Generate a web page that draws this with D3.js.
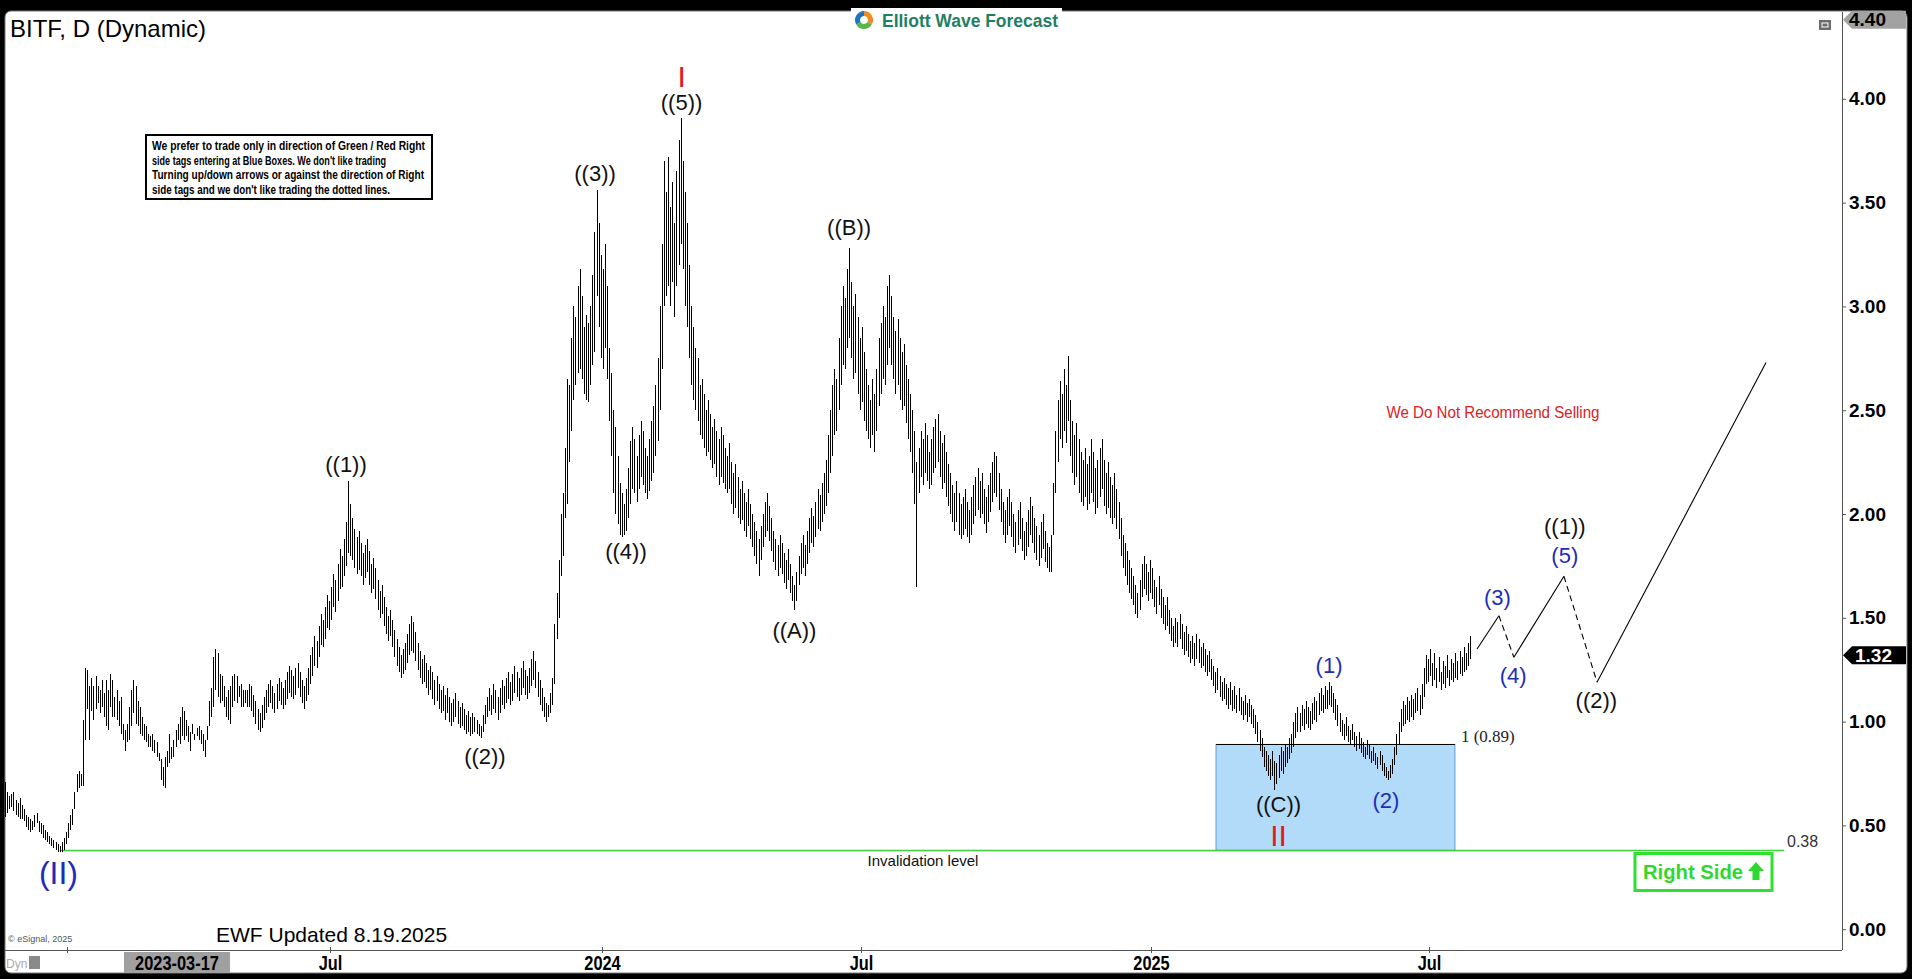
<!DOCTYPE html>
<html><head><meta charset="utf-8">
<script src="https://cdn.jsdelivr.net/npm/d3@7"></script>
<style>html,body{margin:0;padding:0;background:#000;overflow:hidden}text{font-family:"Liberation Sans",Arial,sans-serif}</style>
</head><body><svg id="c" width="1912" height="979"></svg>
<script>
// ---------- DATA (daily bars, values in cents) ----------
const highs = [
71,66,64,65,66,62,61,63,60,58, 55,54,53,52,55,56,52,51,50,48, 47,45,44,43,42,41,40,42,44,47, 51,55,58,66,75,76,75,101,126,
125,117,121,117,122,117,115,120,114,120, 115,123,120,112,115,110,112,99,96,99, 107,115,120,117,110,107,102,99,98,94,
93,94,91,90,85,82,78,83,86,94, 88,91,96,99,102,107,105,101,98,95, 99,94,97,98,96,94,91,98,110,116,
131,135,133,123,122,117,112,115,117,122, 123,122,117,118,115,115,115,118,
117,113,110,106,104,108,112,115,118,120, 117,114,118,121,119,116,120,124,127,125,
122,126,128,124,120,117,121,126,132,136, 141,139,146,152,149,155,161,158,165,171,
168,176,183,180,188,196,216,205,198,193, 189,192,186,181,185,188,182,176,179,174,
168,163,166,160,155,151,154,149,144,140, 136,132,135,138,142,147,151,148,143,138,
134,130,132,128,125,127,124,120,122,118, 115,117,113,116,112,109,111,114,110,107,
109,106,103,105,102,104,102,101,99,98, 103,108,112,116,113,118,115,112,116,120,
117,121,124,119,123,127,124,121,126,129, 125,122,126,130,134,129,124,120,116,112,
109,108,114,121,147,162,178,200,210,232, 265,262,285,300,295,310,318,305,290,296,
292,300,315,336,356,340,325,318,330,310, 280,268,250,242,228,215,210,205,212,222,
235,242,236,228,238,245,240,232,228,236, 245,252,262,275,300,330,370,355,372,348,
360,340,365,380,391,370,355,340,320,300, 290,280,275,262,265,258,250,255,248,242,
246,240,236,242,238,232,228,234,225,220, 224,218,212,216,210,206,212,205,200,196,
192,188,194,200,206,210,204,198,192,188, 185,190,186,181,178,183,176,170,166,172,
180,186,190,185,192,198,203,199,206,212, 209,215,220,226,238,250,262,270,265,285,
300,310,304,318,328,312,300,306,295,285, 290,278,270,262,255,265,258,270,285,292,
300,295,310,315,305,295,288,294,285,278, 282,272,265,258,250,240,225,232,240,236,
244,238,230,236,242,246,248,240,234,238, 230,224,220,214,210,216,210,205,208,212,
206,202,208,214,218,222,216,220,212,208, 214,220,225,230,228,220,212,206,202,208,
212,206,200,196,202,206,198,192,196,202, 208,204,198,194,190,196,200,192,186,184,
190,215,240,255,264,258,270,262,276,255, 245,238,244,236,230,226,232,224,228,236,
230,222,226,232,236,226,220,225,218,214, 220,212,206,198,190,186,182,178,174,170,
166,162,168,176,180,176,172,178,174,168, 165,170,164,160,156,160,154,150,146,150,
148,152,147,143,146,142,139,141,138,142, 140,136,138,135,132,134,130,127,124,126,
122,119,121,118,116,119,115,117,113,116, 112,110,113,109,111,108,106,103,100,96,
92,88,86,84,82,86,81,80,84,88, 86,89,88,92,94,100,104,107,104,108,
106,110,107,105,109,112,110,114,116,113, 117,115,119,117,114,111,108,104,101,99,
102,98,96,99,95,93,95,92,90,88, 91,89,86,88,85,83,86,84,80,78,
76,79,82,88,94,100,106,110,108,112, 110,113,111,114,116,113,118,126,132,130,
135,128,133,126,131,124,129,127,132,125, 130,128,133,129,134,131,136,133,138,141
];
const lows = [
54,56,58,59,57,55,54,53,53,52, 49,48,47,48,49,51,47,46,44,43, 42,41,40,39,38,37,37,37,38,41, 44,48,50,58,66,68,69,69,91,
106,91,105,101,106,109,104,107,102,98, 96,107,102,102,101,98,94,91,86,90, 91,98,104,99,98,94,93,91,90,88,
88,86,85,83,81,72,69,68,78,80, 82,83,88,91,89,93,91,93,90,86, 94,91,93,91,89,86,83,91,98,102,
107,115,112,109,110,107,102,101,99,107, 110,109,112,107,107,109,107,107,
105,102,99,96,95,97,101,104,107,109, 106,104,106,110,108,106,108,111,114,112,
111,113,116,112,109,106,110,113,118,122, 127,126,131,137,136,140,145,144,149,155,
153,158,164,165,170,175,181,180,178,174, 171,173,170,166,169,172,166,162,164,159,
154,150,152,146,142,139,141,136,131,127, 124,121,123,125,128,132,134,133,129,125,
121,118,119,116,113,115,111,108,110,106, 104,105,101,104,100,98,100,102,99,97,
98,96,94,95,93,94,95,94,93,92, 95,99,102,105,103,106,104,101,104,108,
106,109,111,108,110,114,112,110,113,116, 113,111,114,117,120,116,112,108,105,102,
100,102,104,108,118,140,150,170,180,198, 205,225,240,255,262,268,270,265,258,255,
254,262,272,278,305,290,275,270,280,265, 245,228,210,200,195,190,189,190,192,198,
205,212,210,206,212,218,214,210,207,211, 216,220,228,235,250,270,300,305,310,300,
312,295,310,320,330,318,300,290,275,262, 255,250,245,238,236,232,228,230,226,222,
224,218,214,218,215,212,210,212,205,200, 203,198,195,197,192,189,194,188,184,180,
176,170,178,184,189,192,187,182,177,173, 170,174,171,167,164,168,162,158,154,158,
166,171,174,170,176,181,186,184,189,193, 192,196,200,204,210,220,228,238,240,250,
262,272,270,280,285,275,265,268,258,250, 254,245,240,236,232,238,230,240,252,258,
265,262,272,280,272,265,258,262,255,250, 252,244,236,230,220,205,165,210,218,214,
220,216,212,214,220,222,225,218,212,215, 208,204,200,196,192,196,190,188,190,193,
189,186,190,195,199,202,198,200,195,191, 196,201,206,210,208,202,196,190,186,190,
194,189,184,181,185,188,182,178,180,184, 190,186,181,178,175,179,183,177,174,172,
172,190,210,225,236,232,240,234,245,228, 220,214,218,210,206,204,208,202,205,210,
206,200,203,208,212,204,200,203,198,195, 198,193,188,180,174,170,166,162,159,156,
152,150,154,160,164,161,158,162,159,155, 152,156,150,147,144,146,142,139,136,138,
136,140,135,132,134,131,128,130,127,130, 128,126,127,124,122,124,120,117,114,115,
112,110,111,108,106,108,105,106,104,105, 103,101,103,100,102,99,97,94,90,86,
83,78,76,74,72,74,67,70,73,76, 75,78,80,82,85,88,92,95,95,98,
96,99,97,96,99,101,100,103,105,104, 106,106,108,107,104,101,98,95,93,91,
93,90,89,91,88,86,87,85,83,82, 84,82,80,81,79,77,79,76,74,73,
72,73,75,79,84,89,95,98,99,101, 100,102,101,104,105,103,106,112,118,119,
122,117,120,116,119,115,118,116,121,117, 120,119,121,120,123,122,124,125,127,130
];
const lastClose = 1.32;
const yTickValues = [0, 0.5, 1, 1.5, 2, 2.5, 3, 3.5, 4];
const yTopValue = 4.40;
const xTickIdx = [29.5, 154.4, 283.6, 406.7, 544.4, 676.5];
const xTickLabels = ["", "Jul", "2024", "Jul", "2025", "Jul"];
const cursorIdx = 81.7, cursorLabel = "2023-03-17";
// projection path (bar index, price), dashed flags per segment
const projIdx = [699.3, 709.7, 716.8, 740.6, 756.3, 836.6];
const projVal = [1.35, 1.51, 1.31, 1.70, 1.19, 2.73];
const projDashed = [false, true, false, true, false];
// wave labels: text, bar index, price, kind
const waveText = ["(II)","((1))","((2))","((3))","((4))","((5))","I","((A))","((B))","((C))","II","(1)","(2)","(3)","(4)","(5)","((1))","((2))"];
const waveIdx  = [25.4, 162, 228, 280.3, 295, 321.4, 321.4, 375, 401, 605, 605, 629, 656, 709, 716.5, 741, 741, 756];
const waveVal  = [0.27, 2.24, 0.83, 3.64, 1.82, 3.98, 4.11, 1.44, 3.38, 0.60, 0.45, 1.27, 0.62, 1.60, 1.22, 1.80, 1.94, 1.10];
const waveKind = ["cycle","major","major","major","major","major","red","major","major","major","red","minor","minor","minor","minor","minor","major","major"];
const boxIdx = [575.3, 688.8], boxVal = [0.89, 0.38];
const fibLabel = "1 (0.89)";
const invalidation = 0.38, invalidationStartIdx = 26;

// ---------- DRAW ----------
const W = 1912, H = 979;
const P = {l:5, t:12, r:1842, b:950};
const x = d3.scaleLinear().domain([0, 870]).range([5, 5 + 2.105*870]);
const y = d3.scaleLinear().domain([0, 4.4]).range([929.2, 15.8]);
const svg = d3.select("#c");
svg.append("rect").attr("width", W).attr("height", H).attr("fill", "#000");
svg.append("rect").attr("x", 5).attr("y", 11).attr("width", 1902).attr("height", 962)
  .attr("rx", 6).attr("fill", "#fff").attr("stroke", "#777");

svg.append("clipPath").attr("id", "clip").append("rect")
  .attr("x", P.l).attr("y", P.t).attr("width", P.r - P.l).attr("height", P.b - P.t);
const g = svg.append("g").attr("clip-path", "url(#clip)");

// blue box
g.append("rect").attr("x", x(boxIdx[0])).attr("y", y(boxVal[0]))
  .attr("width", x(boxIdx[1]) - x(boxIdx[0])).attr("height", y(boxVal[1]) - y(boxVal[0]))
  .attr("fill", "#b1dbf8").attr("stroke", "#5d9fce").attr("stroke-width", 1);
g.append("line").attr("x1", x(boxIdx[0])).attr("x2", x(boxIdx[1]))
  .attr("y1", Math.round(y(boxVal[0])) + 0.5).attr("y2", Math.round(y(boxVal[0])) + 0.5)
  .attr("stroke", "#000");
g.append("text").attr("x", x(boxIdx[1]) + 6).attr("y", y(boxVal[0]) - 2)
  .style("font-family", "'Liberation Serif','Times New Roman',serif").attr("font-size", 17)
  .attr("fill", "#222").text(fibLabel);

// invalidation line
g.append("line").attr("x1", x(invalidationStartIdx)).attr("x2", 1784)
  .attr("y1", Math.round(y(invalidation)) + 0.5).attr("y2", Math.round(y(invalidation)) + 0.5)
  .attr("stroke", "#3fcf3f").attr("stroke-width", 1.3);
g.append("text").attr("x", 1787).attr("y", y(invalidation) - 3).attr("font-size", 16)
  .attr("fill", "#333").text(invalidation.toFixed(2));
g.append("text").attr("x", 923).attr("y", y(invalidation) + 16).attr("font-size", 15)
  .attr("text-anchor", "middle").attr("fill", "#111").text("Invalidation level");

// bars
const bars = highs.map((h, i) => ({i, h: h/100, l: lows[i]/100}));
g.append("g").selectAll("line").data(bars).join("line")
  .attr("x1", d => Math.round(x(d.i)) + 0.5).attr("x2", d => Math.round(x(d.i)) + 0.5)
  .attr("y1", d => y(d.h)).attr("y2", d => Math.max(y(d.l), y(d.h) + 2))
  .attr("stroke", "#000").attr("stroke-width", 1).attr("shape-rendering", "crispEdges");

// projection
for (let k = 0; k < projDashed.length; k++) {
  g.append("line").attr("x1", x(projIdx[k])).attr("y1", y(projVal[k]))
    .attr("x2", x(projIdx[k+1])).attr("y2", y(projVal[k+1]))
    .attr("stroke", "#000").attr("stroke-width", 1.1)
    .attr("stroke-dasharray", projDashed[k] ? "6,4" : null);
}

// wave labels
const kindStyle = {
  major: {fill: "#111", size: 22},
  minor: {fill: "#1f2db5", size: 22},
  cycle: {fill: "#1f2db5", size: 32},
  red:   {fill: "#e01b1b", size: 30}
};
g.append("g").selectAll("text").data(waveText.map((t, i) => ({t, i: waveIdx[i], v: waveVal[i], k: waveKind[i]})))
  .join("text").attr("x", d => x(d.i)).attr("y", d => y(d.v)).attr("text-anchor", "middle")
  .attr("dominant-baseline", "central").attr("font-size", d => kindStyle[d.k].size)
  .attr("fill", d => kindStyle[d.k].fill).text(d => d.t);

// annotations
g.append("text").attr("x", 1493).attr("y", 418).attr("text-anchor", "middle").attr("font-size", 16)
  .attr("textLength", 213).attr("lengthAdjust", "spacingAndGlyphs")
  .attr("fill", "#e0201e").text("We Do Not Recommend Selling");

// notice box
const nb = {x: 146, y: 135, w: 286, h: 64};
svg.append("rect").attr("x", nb.x).attr("y", nb.y).attr("width", nb.w).attr("height", nb.h)
  .attr("fill", "#fff").attr("stroke", "#000").attr("stroke-width", 2);
const noteLines = ["We prefer to trade only in direction of Green / Red Right",
  "side tags entering at Blue Boxes. We don't like trading",
  "Turning up/down arrows or against the direction of Right",
  "side tags and we don't like trading the dotted lines."];
const noteWidths = [273, 234, 272, 238];
noteLines.forEach((t, k) => {
  svg.append("text").attr("x", nb.x + 6).attr("y", nb.y + 15 + k*14.5).attr("font-size", 12)
    .attr("font-weight", "bold").attr("textLength", noteWidths[k]).attr("lengthAdjust", "spacingAndGlyphs")
    .attr("fill", "#000").text(t);
});

// Right Side box
svg.append("rect").attr("x", 1635).attr("y", 853.5).attr("width", 137).attr("height", 37)
  .attr("fill", "#fff").attr("stroke", "#2fe02f").attr("stroke-width", 3);
svg.append("text").attr("x", 1643).attr("y", 879).attr("font-size", 20).attr("font-weight", "bold")
  .attr("fill", "#2fd82f").attr("textLength", 100).attr("lengthAdjust", "spacingAndGlyphs").text("Right Side");
svg.append("path").attr("d", "M1756,862 L1764,871 L1759.5,871 L1759.5,880 L1752.5,880 L1752.5,871 L1748,871 Z")
  .attr("fill", "#2fd82f");

// title, logo, footer
svg.append("text").attr("x", 10).attr("y", 37).attr("font-size", 24).attr("fill", "#000").text("BITF, D (Dynamic)");
svg.append("rect").attr("x", 851).attr("y", 8).attr("width", 211).attr("height", 24).attr("fill", "#fff");
const lc = {x: 864, y: 20, r: 9};
const arc = d3.arc().innerRadius(4).outerRadius(lc.r);
[["#f08a24", 0, 2.1], ["#56b848", 2.1, 4.2], ["#1e74c0", 4.2, 6.283]].forEach(([c, a0, a1]) => {
  svg.append("path").attr("transform", `translate(${lc.x},${lc.y})`)
    .attr("d", arc({startAngle: a0, endAngle: a1})).attr("fill", c);
});
svg.append("text").attr("x", 882).attr("y", 27).attr("font-size", 17.5).attr("font-weight", "bold")
  .attr("textLength", 176).attr("lengthAdjust", "spacingAndGlyphs").attr("fill", "#1f7f62").text("Elliott Wave Forecast");
svg.append("text").attr("x", 216).attr("y", 942).attr("font-size", 21).attr("fill", "#000").text("EWF Updated 8.19.2025");
svg.append("text").attr("x", 8).attr("y", 942).attr("font-size", 9).attr("fill", "#555").text("© eSignal, 2025");
// top-right icon
svg.append("rect").attr("x", 1819).attr("y", 20).attr("width", 12).attr("height", 10).attr("fill", "#6d6d6d");
svg.append("rect").attr("x", 1822).attr("y", 23).attr("width", 6).attr("height", 4).attr("fill", "none").attr("stroke", "#fff").attr("stroke-width", 1);

// axes lines
svg.append("line").attr("x1", P.l).attr("x2", P.r).attr("y1", P.b + 0.5).attr("y2", P.b + 0.5).attr("stroke", "#555");
svg.append("line").attr("x1", P.r + 0.5).attr("x2", P.r + 0.5).attr("y1", P.t).attr("y2", P.b).attr("stroke", "#555");

// y axis
const yAxis = svg.append("g").attr("transform", `translate(${P.r},0)`)
  .call(d3.axisRight(y).tickValues(yTickValues).tickFormat(d => d.toFixed(2)).tickSizeInner(4).tickSizeOuter(0).tickPadding(3));
yAxis.select(".domain").remove();
yAxis.selectAll("line").attr("stroke", "#555");
yAxis.selectAll("text").attr("font-size", 19).attr("font-weight", "bold").attr("fill", "#000")
  .style("font-family", "'Liberation Sans',Arial,sans-serif");

// top gray tag 4.40
svg.append("path").attr("d", `M${P.r+1},${y(yTopValue)+4} L${P.r+10},${y(yTopValue)-5} L1906,${y(yTopValue)-5} L1906,${y(yTopValue)+13} L${P.r+10},${y(yTopValue)+13} Z`)
  .attr("fill", "#a2a2a2");
svg.append("text").attr("x", 1849).attr("y", y(yTopValue) + 10).attr("font-size", 19).attr("font-weight", "bold")
  .attr("fill", "#000").text(yTopValue.toFixed(2));
// last price tag
const yc = y(lastClose);
svg.append("path").attr("d", `M${P.r+1},${yc} L${P.r+10},${yc-9} L1906,${yc-9} L1906,${yc+9} L${P.r+10},${yc+9} Z`).attr("fill", "#000");
svg.append("text").attr("x", 1855).attr("y", yc + 7).attr("font-size", 19).attr("font-weight", "bold")
  .attr("fill", "#fff").text(lastClose.toFixed(2));

// x axis
const xa = svg.append("g");
xTickIdx.forEach((ix, k) => {
  const px = Math.round(x(ix)) + 0.5;
  xa.append("line").attr("x1", px).attr("x2", px).attr("y1", P.b - 3).attr("y2", P.b + 3).attr("stroke", "#555");
  if (xTickLabels[k]) {
    xa.append("text").attr("transform", `translate(${px},970) scale(0.82,1)`).attr("text-anchor", "middle")
      .attr("font-size", 20).attr("font-weight", "bold").attr("fill", "#000").text(xTickLabels[k]);
  }
});
const cx = x(cursorIdx);
xa.append("rect").attr("x", cx - 53).attr("y", 952).attr("width", 106).attr("height", 21).attr("fill", "#a0a0a0");
xa.append("text").attr("transform", `translate(${cx},970) scale(0.82,1)`).attr("text-anchor", "middle")
  .attr("font-size", 20).attr("font-weight", "bold").attr("fill", "#000").text(cursorLabel);
// Dyn
svg.append("text").attr("x", 6).attr("y", 968).attr("font-size", 12).attr("fill", "#aaa").text("Dyn");
svg.append("rect").attr("x", 29).attr("y", 956).attr("width", 11).attr("height", 13).attr("fill", "#8a8a8a");
</script>
</body></html>
